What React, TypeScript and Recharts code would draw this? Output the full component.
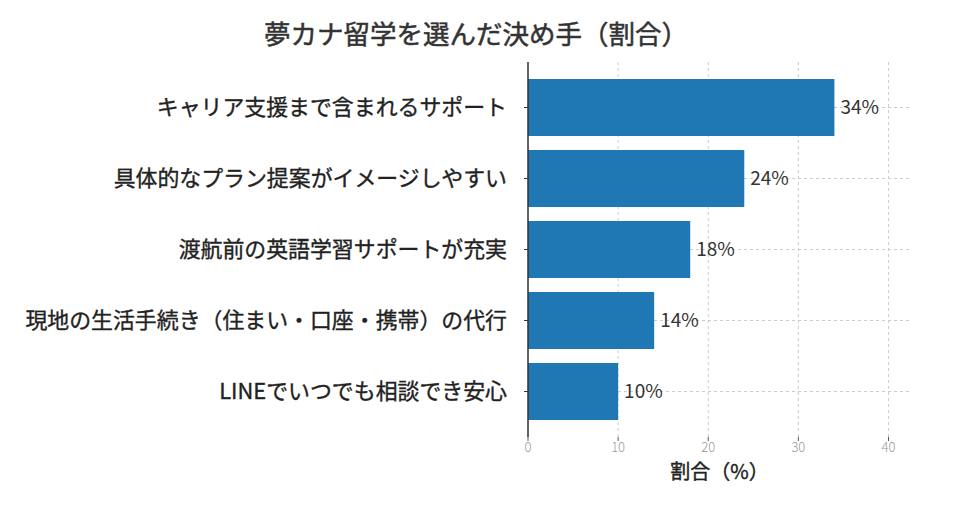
import { Bar, BarChart, CartesianGrid, LabelList, XAxis, YAxis } from 'recharts';

const categories = [
  'キャリア支援まで含まれるサポート',
  '具体的なプラン提案がイメージしやすい',
  '渡航前の英語学習サポートが充実',
  '現地の生活手続き（住まい・口座・携帯）の代行',
  'LINEでいつでも相談でき安心',
];
const shares = [34, 24, 18, 14, 10];
const xTicks = [0, 10, 20, 30, 40];

const data = categories.map((name, i) => ({ name, share: shares[i] }));

const FONT = '"Noto Sans CJK JP", "Noto Sans", sans-serif';

export default function App() {
  return (
    <div style={{ position: 'absolute', left: 0, top: 0, width: 960, height: 523, fontFamily: FONT }}>
      <div
        style={{
          position: 'absolute',
          top: 13,
          left: 0,
          width: 952,
          textAlign: 'center',
          fontSize: 26.5,
          fontWeight: 400,
          color: '#333',
          WebkitTextStroke: '0.5px #333',
        }}
      >
        夢カナ留学を選んだ決め手（割合）
      </div>
      <BarChart
        width={960}
        height={523}
        data={data}
        layout="vertical"
        margin={{ top: 62, right: 49, bottom: 0, left: 0 }}
        barCategoryGap="10%"
      >
        {/* grid only at ticks, no frame */}
        <CartesianGrid stroke="#cccccc" strokeDasharray="3 3" syncWithTicks />
        <XAxis
          type="number"
          domain={[0, 42.5]}
          ticks={xTicks}
          axisLine={false}
          tickLine={{ stroke: '#555' }}
          tickSize={4}
          height={86}
          tick={{ fill: '#999', fontSize: 13, fontWeight: 300, fontFamily: FONT }}
          label={{
            value: '割合（%）',
            position: 'insideBottom',
            offset: 44,
            fill: '#222',
            stroke: '#222',
            strokeWidth: 0.4,
            fontSize: 20,
            fontWeight: 400,
            fontFamily: FONT,
          }}
        />
        <YAxis
          type="category"
          dataKey="name"
          width={528}
          padding={{ top: 10, bottom: 10 }}
          axisLine={{ stroke: '#333', strokeWidth: 1.5 }}
          tickLine={{ stroke: '#333' }}
          tickSize={4}
          tickMargin={17}
          interval={0}
          tick={{
            fill: '#222',
            stroke: '#222',
            strokeWidth: 0.35,
            fontSize: 21.9,
            fontWeight: 400,
            fontFamily: FONT,
          }}
        />
        <Bar dataKey="share" fill="#1f77b4" isAnimationActive={false}>
          <LabelList
            dataKey="share"
            position="right"
            offset={6}
            formatter={(v: number) => `${v}%`}
            style={{ fill: '#333', fontSize: 19, fontFamily: FONT }}
          />
        </Bar>
      </BarChart>
    </div>
  );
}
